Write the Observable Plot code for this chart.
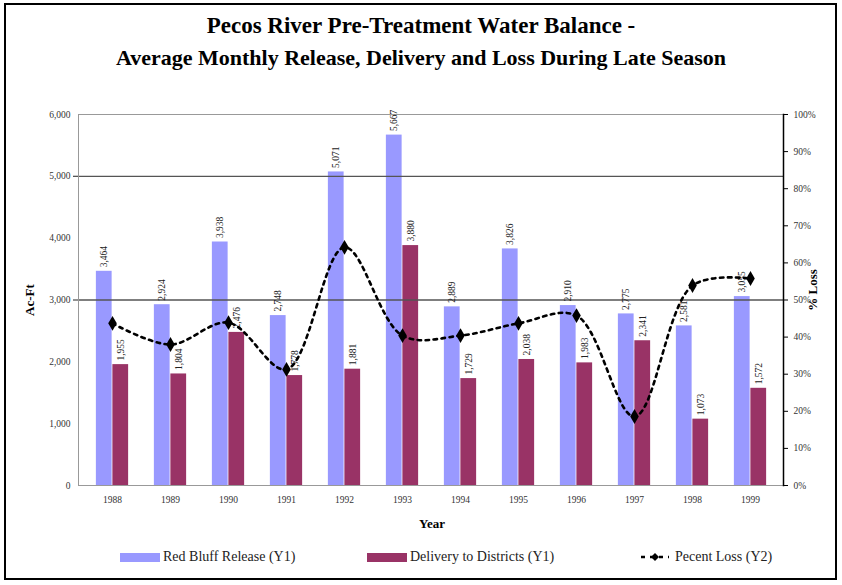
<!DOCTYPE html>
<html>
<head>
<meta charset="utf-8">
<script src="https://cdn.jsdelivr.net/npm/d3@7"></script>
<script src="https://cdn.jsdelivr.net/npm/@observablehq/plot@0.6"></script>
<style>
  html, body { margin: 0; padding: 0; background: #fff; }
  body { width: 842px; height: 585px; position: relative; overflow: hidden; font-family: "Liberation Serif", "DejaVu Serif", serif; }
  #frame { position: absolute; left: 4px; top: 3px; width: 833px; height: 577px; border: 2px solid #000; box-sizing: border-box; }
  .t { position: absolute; white-space: nowrap; color: #000; font-family: "Liberation Serif", serif; }
  #title1 { left: 0; width: 842px; text-align: center; top: 13px; font-size: 23px; font-weight: bold; }
  #title2 { left: 0; width: 842px; text-align: center; top: 45px; font-size: 22px; font-weight: bold; }
  #ylab { left: 30px; top: 300px; font-size: 13px; font-weight: bold; transform: translate(-50%, -50%) rotate(-90deg); }
  #y2lab { left: 813px; top: 290px; font-size: 13px; font-weight: bold; transform: translate(-50%, -50%) rotate(-90deg); }
  #xlab { left: 432px; top: 524px; font-size: 13px; font-weight: bold; transform: translate(-50%, -50%); }
  #chart { position: absolute; left: 0; top: 0; }
  .leg { position: absolute; top: 547px; height: 20px; display: flex; align-items: center; font-size: 14px; color: #222; font-family: "Liberation Serif", serif; }
  .sw { width: 40px; height: 9px; margin-right: 3px; }
</style>
</head>
<body>
<div id="frame"></div>
<div id="chart"></div>
<div class="t" id="title1">Pecos River Pre-Treatment Water Balance -</div>
<div class="t" id="title2">Average Monthly Release, Delivery and Loss During Late Season</div>
<div class="t" id="ylab">Ac-Ft</div>
<div class="t" id="y2lab">% Loss</div>
<div class="t" id="xlab">Year</div>
<div class="leg" style="left:120px"><div class="sw" style="background:#9999ff"></div>Red Bluff Release (Y1)</div>
<div class="leg" style="left:367px"><div class="sw" style="background:#993366"></div>Delivery to Districts (Y1)</div>
<div class="leg" style="left:640px"><svg width="30" height="12" style="margin-right:5px"><line x1="1" y1="6" x2="29" y2="6" stroke="#000" stroke-width="2.5" stroke-dasharray="4,5"/><path d="M15,2 L19,6 L15,10 L11,6 Z" fill="#000"/></svg>Pecent Loss (Y2)</div>
<script>
const years = [1988, 1989, 1990, 1991, 1992, 1993, 1994, 1995, 1996, 1997, 1998, 1999];
const release = [3464, 2924, 3938, 2748, 5071, 5667, 2889, 3826, 2910, 2775, 2581, 3055];
const delivery = [1955, 1804, 2476, 1778, 1881, 3880, 1729, 2038, 1983, 2341, 1073, 1572];
const pctLoss = [43.7, 38.0, 43.9, 31.3, 64.2, 40.4, 40.4, 43.7, 45.8, 18.6, 53.9, 55.8];
const yTicks = [0, 1000, 2000, 3000, 4000, 5000, 6000];
const pctTicks = [0, 10, 20, 30, 40, 50, 60, 70, 80, 90, 100];
const gridValues = [3000, 5000];

const yMax = 6000;
const pctToY = p => p / 100 * yMax;
const data = years.map((year, i) => ({
  year: String(year),
  release: release[i],
  delivery: delivery[i],
  lossY: pctToY(pctLoss[i])
}));

const W = 842, H = 540;
const mL = 78, mR = 59;
const band = (W - mL - mR) / years.length;
const barW = 16.5;
const fmt = d3.format(",");

const chart = Plot.plot({
  width: W,
  height: H,
  marginTop: 114,
  marginBottom: 55,
  marginLeft: mL,
  marginRight: mR,
  style: { fontFamily: "Liberation Serif, serif", fontSize: "9.5px", background: "transparent", overflow: "visible", color: "#333" },
  x: { type: "band", domain: years.map(String), padding: 0, label: null },
  y: { domain: [0, yMax], label: null },
  marks: [
    Plot.barY(data, { x: "year", y: "release", fill: "#9999ff", insetLeft: band / 2 - barW, insetRight: band / 2 }),
    Plot.barY(data, { x: "year", y: "delivery", fill: "#993366", insetLeft: band / 2, insetRight: band / 2 - barW }),
    Plot.ruleY(gridValues, { stroke: "#555", strokeWidth: 1.3 }),
    Plot.frame({ stroke: "#999", strokeWidth: 1 }),
    Plot.frame({ anchor: "right", stroke: "#000", strokeWidth: 1.5 }),
    Plot.axisY(gridValues, { anchor: "left", tickSize: 5, tickFormat: () => "", stroke: "#555", strokeWidth: 1.3 }),
    Plot.axisY(yTicks, { anchor: "left", tickSize: 0, tickPadding: 8, tickFormat: fmt, label: null, fill: "#333" }),
    Plot.axisY(pctTicks.map(pctToY), { anchor: "right", tickSize: 4, tickPadding: 6, tickFormat: d => Math.round(d / yMax * 100) + "%", label: null, fill: "#333", stroke: "#000" }),
    Plot.axisX({ anchor: "bottom", tickSize: 0, tickPadding: 11, label: null, fill: "#333" }),
    Plot.text(data, { x: "year", y: "release", text: d => fmt(d.release), rotate: -90, textAnchor: "start", dx: -barW / 2, dy: -4, fill: "#222", fontSize: 9.5 }),
    Plot.text(data, { x: "year", y: "delivery", text: d => fmt(d.delivery), rotate: -90, textAnchor: "start", dx: barW / 2, dy: -4, fill: "#222", fontSize: 9.5 }),
    Plot.line(data, { x: "year", y: "lossY", curve: "catmull-rom", stroke: "#000", strokeWidth: 2.6, strokeDasharray: "3.5,4.5" }),
    Plot.dot(data, { x: "year", y: "lossY", symbol: "diamond", r: 4.5, fill: "#000" })
  ]
});
document.getElementById("chart").appendChild(chart);
</script>
</body>
</html>
